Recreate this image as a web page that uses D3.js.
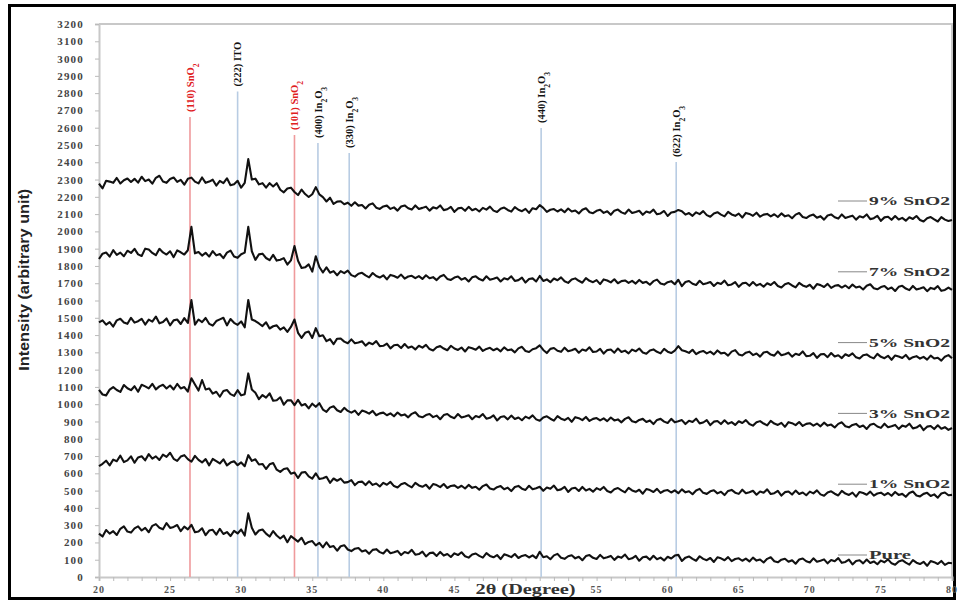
<!DOCTYPE html>
<html>
<head>
<meta charset="utf-8">
<script src="https://cdn.jsdelivr.net/npm/d3@7"></script>
<style>
  body { margin: 0; background: #fff; }
  svg { display: block; }
</style>
</head>
<body>
<svg id="chart" width="960" height="604"></svg>
<script>
// 測定条件 (2θ の開始角と刻み)
var thetaStart = 20, thetaStep = 0.25

// 各試料の強度 (1行 = 1度ぶん, 0.25度刻み)
var pure = [
  251,234,272,251, 265,243,279,293, 263,257,281,293, 269,284,259,296, 306,285,276,312,
  284,290,301,265, 291,276,302,259, 263,282,242,269, 273,245,279,249, 260,237,267,252,
  275,240,368,285, 246,269,275,251, 234,266,240,223, 239,201,236,221, 205,227,190,203,
  208,183,197,171, 201,173,179,152, 178,184,159,150, 164,168,148,155, 135,157,161,144,
  136,159,138,143, 151,127,145,138, 157,129,133,147, 119,138,141,122, 145,124,133,116,
  137,127,143,120, 112,130,136,122, 112,138,122,114, 127,104,131,124, 115,133,110,122,
  127,113,125,109, 146,114,120,103, 125,134,111,105, 120,126,108,117, 97,121,127,111,
  104,128,108,114, 122,99,118,111, 130,103,108,122, 94,114,118,100, 123,103,112,96,
  117,107,124,128, 93,112,119,105, 94,120,105,97, 110,87,114,108, 97,115,92,104,
  108,94,106,90, 112,95,101,84, 105,114,91,85, 100,106,88,97, 77,101,107,91,
  84,108,88,94, 102,79,98,91, 109,82,87,101, 73,93,97,79, 101,81,90,74,
  95,85,102,79, 71,90,97,83, 72,98,83,75, 88,65,92,86, 75,93,70,82,
  80
]
var sno2_1 = [
  641,655,673,646, 679,670,702,665, 675,698,661,692, 699,675,711,685, 698,677,708,695,
  719,684,672,697, 705,682,667,701, 678,663,682,646, 683,671,657,681, 646,662,670,647,
  663,641,705,672, 681,651,654,625, 652,659,621,608, 625,629,598,605, 573,604,608,582,
  569,600,567,571, 580,545,570,557, 569,546,549,561, 532,550,552,532, 554,533,541,524,
  545,534,550,526, 518,537,544,530, 519,545,530,522, 534,511,538,532, 520,538,515,527,
  530,516,528,512, 533,516,522,505, 526,535,512,506, 520,526,508,517, 497,521,527,511,
  504,528,508,514, 522,499,518,511, 529,502,507,521, 492,512,516,498, 521,501,510,494,
  514,504,521,498, 489,508,515,501, 490,516,501,493, 505,482,509,503, 492,510,487,499,
  503,489,501,485, 507,490,496,479, 501,510,487,481, 496,502,484,493, 474,498,504,488,
  481,505,485,491, 499,476,495,488, 507,480,485,499, 471,491,495,477, 500,480,489,473,
  494,484,501,478, 470,489,496,482, 472,498,483,475, 488,465,492,486, 476,494,471,483,
  488,474,486,470, 492,475,481,464, 486,495,472,466, 481,487,469,478, 459,483,489,473,
  475
]
var sno2_3 = [
  1083,1056,1051,1084, 1099,1082,1071,1111, 1092,1081,1104,1072, 1112,1103,1091,1118, 1086,1103,1112,1091,
  1108,1085,1117,1091, 1099,1073,1150,1114, 1079,1140,1085,1091, 1061,1072,1043,1076, 1082,1058,1048,1081,
  1051,1058,1178,1085, 1066,1029,1053,1038, 1063,1020,1023,1040, 997,1022,1023,994, 1025,993,1001,976,
  1003,985,1006,969, 956,980,988,965, 955,979,961,951, 963,938,963,956, 945,961,936,947,
  951,936,947,930, 952,935,941,924, 944,953,930,924, 937,943,925,934, 913,937,943,927,
  919,943,923,929, 936,913,932,925, 943,916,921,935, 906,926,930,912, 934,914,923,907,
  928,918,935,912, 904,923,930,916, 905,931,916,908, 921,898,925,919, 908,926,903,915,
  920,906,918,902, 923,906,912,895, 915,924,901,895, 909,915,897,906, 885,909,915,899,
  891,915,895,901, 908,885,904,897, 916,889,894,908, 879,899,903,885, 907,887,896,880,
  901,891,908,885, 876,895,902,888, 877,903,888,880, 892,869,896,890, 879,897,874,886,
  890,876,888,872, 893,876,882,865, 886,895,872,866, 880,886,868,877, 857,881,887,871,
  863,887,867,873, 880,857,876,869, 887,860,865,879, 850,870,874,856, 878,858,867,851,
  862
]
var sno2_5 = [
  1473,1485,1460,1475, 1449,1485,1494,1473, 1465,1500,1472,1480, 1494,1461,1489,1478, 1507,1468,1475,1496,
  1456,1485,1490,1464, 1498,1470,1602,1460, 1490,1475,1499,1465, 1455,1481,1491,1500, 1456,1493,1471,1459,
  1479,1445,1603,1490, 1481,1467,1452,1474, 1438,1451,1456,1431, 1444,1418,1447,1490, 1413,1384,1413,1420,
  1383,1440,1393,1399, 1365,1376,1347,1379, 1380,1362,1353,1375, 1353,1357,1364,1339, 1356,1347,1365,1336,
  1338,1351,1323,1341, 1344,1325,1348,1326, 1334,1317,1338,1327, 1343,1319,1311,1330, 1336,1322,1312,1338,
  1322,1314,1328,1305, 1330,1324,1315,1333, 1308,1320,1326,1312, 1322,1306,1329,1312, 1317,1300,1323,1332,
  1308,1302,1318,1324, 1340,1314,1296,1320, 1325,1309,1303,1327, 1306,1312,1321,1298, 1316,1309,1329,1302,
  1305,1320,1293,1313, 1316,1298,1322,1302, 1310,1294,1316,1306, 1322,1299,1292,1311, 1317,1303,1294,1320,
  1304,1296,1310,1336, 1312,1306,1297,1315, 1290,1302,1308,1294, 1304,1288,1311,1294, 1298,1281,1304,1313,
  1288,1282,1298,1304, 1284,1293,1275,1299, 1303,1287,1281,1305, 1283,1289,1298,1275, 1292,1285,1305,1278,
  1280,1295,1268,1288, 1290,1272,1296,1276, 1283,1267,1289,1279, 1294,1271,1264,1283, 1288,1274,1265,1291,
  1274,1266,1280,1257, 1282,1276,1267,1285, 1260,1272,1278,1264, 1274,1258,1281,1264, 1269,1252,1275,1284,
  1266
]
var sno2_7 = [
  1840,1871,1878,1854, 1891,1864,1877,1856, 1888,1875,1899,1867, 1858,1900,1895,1875, 1862,1899,1878,1866,
  1885,1851,1890,1879, 1866,1891,2026,1873, 1881,1860,1876,1854, 1886,1861,1869,1845, 1877,1889,1855,1847,
  1868,1877,2026,1885, 1835,1867,1871,1846, 1833,1864,1831,1836, 1845,1808,1832,1915, 1830,1788,1792,1809,
  1767,1856,1794,1762, 1792,1761,1770,1746, 1770,1758,1773,1747, 1738,1755,1760,1745, 1734,1759,1742,1733,
  1746,1722,1748,1742, 1732,1750,1727,1739, 1743,1729,1741,1725, 1746,1729,1735,1718, 1739,1748,1725,1719,
  1733,1739,1721,1730, 1710,1734,1740,1724, 1716,1740,1720,1726, 1733,1710,1729,1722, 1740,1713,1718,1732,
  1704,1724,1728,1710, 1742,1713,1722,1706, 1727,1717,1734,1711, 1702,1721,1728,1714, 1703,1729,1714,1706,
  1718,1695,1722,1716, 1705,1723,1700,1712, 1716,1702,1714,1698, 1719,1702,1708,1691, 1712,1721,1698,1692,
  1706,1712,1694,1720, 1683,1707,1713,1697, 1690,1714,1694,1700, 1707,1684,1703,1696, 1715,1688,1693,1707,
  1679,1699,1703,1685, 1707,1687,1696,1680, 1700,1690,1707,1684, 1675,1694,1701,1687, 1676,1702,1687,1679,
  1691,1668,1695,1689, 1678,1696,1673,1685, 1689,1675,1687,1671, 1692,1675,1681,1664, 1685,1694,1671,1665,
  1678,1684,1666,1675, 1655,1679,1685,1669, 1660,1684,1664,1670, 1677,1654,1673,1666, 1683,1656,1661,1675,
  1661
]
var sno2_9 = [
  2277,2249,2293,2288, 2281,2309,2277,2296, 2306,2286,2304,2282, 2316,2291,2300,2276, 2310,2322,2289,2281,
  2303,2312,2286,2298, 2270,2304,2311,2288, 2278,2312,2281,2288, 2299,2265,2292,2279, 2307,2267,2273,2293,
  2253,2281,2418,2300, 2305,2272,2279,2253, 2279,2260,2279,2241, 2226,2248,2253,2228, 2210,2242,2216,2199,
  2215,2256,2214,2198, 2173,2195,2159,2172, 2174,2157,2166,2148, 2168,2149,2153,2133, 2154,2162,2137,2130,
  2144,2149,2130,2139, 2120,2144,2150,2134, 2126,2150,2130,2136, 2143,2120,2139,2132, 2150,2123,2128,2142,
  2113,2133,2137,2119, 2142,2122,2131,2115, 2136,2126,2143,2120, 2112,2131,2138,2124, 2114,2140,2125,2117,
  2130,2107,2134,2128, 2152,2136,2113,2125, 2129,2115,2127,2111, 2132,2115,2121,2104, 2125,2134,2111,2105,
  2119,2125,2107,2116, 2096,2120,2126,2110, 2102,2126,2106,2112, 2119,2096,2115,2108, 2126,2099,2104,2118,
  2089,2109,2113,2124, 2117,2097,2106,2090, 2110,2100,2117,2094, 2085,2104,2111,2097, 2087,2113,2098,2090,
  2103,2080,2107,2101, 2090,2108,2085,2097, 2101,2087,2099,2083, 2104,2087,2093,2076, 2097,2106,2083,2077,
  2091,2097,2079,2088, 2068,2092,2098,2082, 2074,2098,2078,2084, 2091,2068,2087,2080, 2098,2071,2076,2090,
  2061,2081,2085,2067, 2089,2069,2078,2062, 2082,2072,2089,2066, 2057,2076,2083,2069, 2057,2083,2068,2060,
  2066
]

// 凡例 (上から)
var seriesNames = ["9% SnO2", "7% SnO2", "5% SnO2", "3% SnO2", "1% SnO2", "Pure"]
var seriesData = [sno2_9, sno2_7, sno2_5, sno2_3, sno2_1, pure]

// 回折ピークの帰属
var peakAngles = [26.4, 29.75, 33.75, 35.4, 37.6, 51.1, 60.6]
var peakTops = [2662, 2810, 2558, 2512, 2454, 2598, 2402]
var peakHkl = ["(110)", "(222)", "(101)", "(400)", "(330)", "(440)", "(622)"]
var peakPhase = ["SnO2", "ITO", "SnO2", "In2O3", "In2O3", "In2O3", "In2O3"]

// 軸の目盛り
var yTicks = d3.range(0, 3201, 100)
var xTicks = [20, 25, 30, 35, 40, 45, 50, 55, 60, 65, 70, 75, 80]
var xMinorTicks = d3.range(20, 81, 1)

var svg = d3.select("#chart")
var plotL = 99, plotR = 952, plotT = 24, plotB = 577
var serif = "'Liberation Serif', 'DejaVu Serif', serif"

var x = d3.scaleLinear().domain([20, 80]).range([plotL, plotR])
var y = d3.scaleLinear().domain([0, 3200]).range([plotB, plotT])

// 外枠
svg.append("rect")
  .attr("x", 9.5).attr("y", 5.5).attr("width", 945).attr("height", 593)
  .attr("fill", "none").attr("stroke", "#000").attr("stroke-width", 3)

// プロット領域の枠 (上と右)
svg.append("path")
  .attr("d", "M" + plotL + "," + plotT + "H" + plotR + "V" + plotB)
  .attr("fill", "none").attr("stroke", "#c8c8c8").attr("stroke-width", 2)

// y 軸
var yAxis = svg.append("g")
  .attr("transform", "translate(" + plotL + ",0)")
  .call(d3.axisLeft(y).tickValues(yTicks).tickFormat(d3.format("d")).tickSize(4).tickPadding(11))
yAxis.select(".domain").attr("stroke", "#c8c8c8").attr("stroke-width", 2)
yAxis.selectAll(".tick line").attr("stroke", "#bbb")
yAxis.selectAll("text")
  .attr("font-family", serif).attr("font-weight", "bold").attr("font-size", 11)
  .attr("letter-spacing", 1.2).attr("fill", "#444")

// x 軸 (小目盛り + 数値)
var xAxis = svg.append("g")
  .attr("transform", "translate(0," + plotB + ")")
  .call(d3.axisBottom(x).tickValues(xMinorTicks).tickSize(4).tickFormat(""))
xAxis.select(".domain").attr("stroke", "#c8c8c8").attr("stroke-width", 2)
xAxis.selectAll(".tick line").attr("stroke", "#bbb")

svg.append("g").selectAll("text")
  .data(xTicks.filter(function(d) { return d !== 50 }))
  .enter().append("text")
  .attr("x", function(d) { return x(d) })
  .attr("y", plotB + 16)
  .attr("text-anchor", "middle")
  .attr("font-family", serif).attr("font-weight", "bold").attr("font-size", 10)
  .attr("letter-spacing", 1).attr("fill", "#555")
  .text(function(d) { return d })

// 軸タイトル
svg.append("text")
  .attr("x", x(50)).attr("y", plotB + 17)
  .attr("text-anchor", "middle")
  .attr("font-family", serif).attr("font-weight", "bold").attr("font-size", 14)
  .attr("textLength", 100).attr("lengthAdjust", "spacingAndGlyphs")
  .attr("fill", "#333")
  .text("2θ (Degree)")

svg.append("text")
  .attr("transform", "translate(29," + y(1720) + ") rotate(-90)")
  .attr("text-anchor", "middle")
  .attr("font-family", "'Liberation Sans Narrow', 'Liberation Sans', Arial, sans-serif")
  .attr("font-size", 15).attr("font-weight", 600)
  .attr("textLength", 182).attr("lengthAdjust", "spacingAndGlyphs")
  .attr("fill", "#222")
  .text("Intensity (arbitrary unit)")

// ピーク位置の縦線
var peaks = peakAngles.map(function(a, i) {
  return { angle: a, top: peakTops[i], hkl: peakHkl[i], phase: peakPhase[i] }
})
var isSn = function(d) { return d.phase === "SnO2" }

svg.append("g").selectAll("line")
  .data(peaks)
  .enter().append("line")
  .attr("x1", function(d) { return x(d.angle) })
  .attr("x2", function(d) { return x(d.angle) })
  .attr("y1", y(0))
  .attr("y2", function(d) { return y(d.top) })
  .attr("stroke", function(d) { return isSn(d) ? "#ef9a9c" : "#b8cce3" })
  .attr("stroke-width", 1.6)

// ピークのラベル (縦書き, 添字付き)
var peakLabel = svg.append("g").selectAll("text")
  .data(peaks)
  .enter().append("text")
  .attr("transform", function(d) { return "translate(" + x(d.angle) + "," + (y(d.top) - 5) + ") rotate(-90)" })
  .attr("dy", "0.35em")
  .attr("font-family", serif).attr("font-weight", "bold").attr("font-size", 10.5)
  .attr("fill", function(d) { return isSn(d) ? "#e0201e" : "#111" })

peakLabel.each(function(d) {
  var t = d3.select(this)
  t.append("tspan").text(d.hkl + " ")
  d.phase.match(/[A-Za-z]+|\d/g).forEach(function(part) {
    if (/\d/.test(part)) {
      t.append("tspan").attr("baseline-shift", "sub").attr("font-size", 7.5).text(part)
    } else {
      t.append("tspan").text(part)
    }
  })
})

// 測定曲線
var line = d3.line()
  .x(function(d, i) { return x(thetaStart + i * thetaStep) })
  .y(function(d) { return y(d) })

svg.append("g").selectAll("path")
  .data(seriesData)
  .enter().append("path")
  .attr("d", line)
  .attr("fill", "none")
  .attr("stroke", "#111")
  .attr("stroke-width", 2.1)
  .attr("stroke-linejoin", "round")

// 凡例
var legend = svg.append("g").selectAll("g")
  .data(seriesNames)
  .enter().append("g")
  .attr("transform", function(d, i) { return "translate(838," + (201 + i * 70.8) + ")" })

legend.append("line")
  .attr("x1", 0).attr("x2", 29)
  .attr("stroke", "#888").attr("stroke-width", 1)

legend.append("text")
  .attr("x", 31).attr("dy", "0.35em")
  .attr("font-family", serif).attr("font-weight", "bold").attr("font-size", 12)
  .attr("textLength", function(d) { return d === "Pure" ? 42 : 81 })
  .attr("lengthAdjust", "spacingAndGlyphs")
  .attr("fill", "#333")
  .text(function(d) { return d })
</script>
</body>
</html>
